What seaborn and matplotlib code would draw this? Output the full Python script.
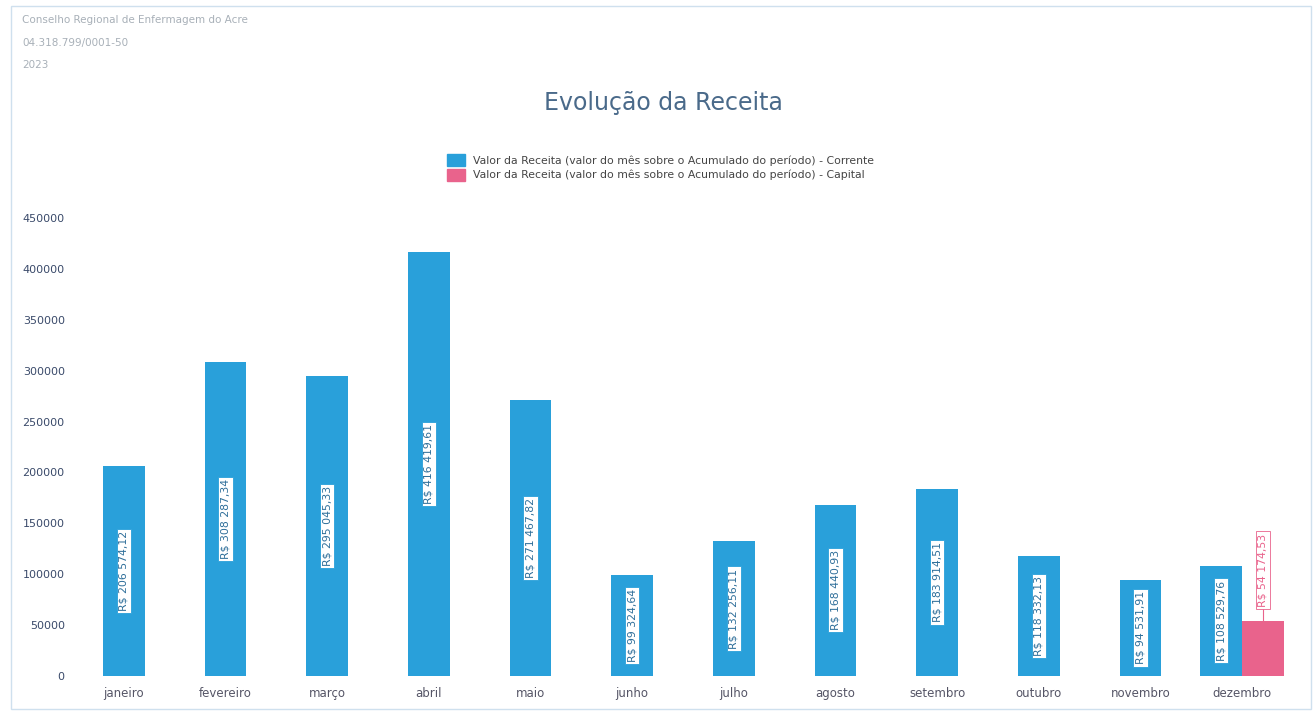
import matplotlib.pyplot as plt
import matplotlib.patches as mpatches
import seaborn as sns
import pandas as pd
import numpy as np

# dados
meses = ['janeiro', 'fevereiro', 'março', 'abril', 'maio', 'junho', 'julho',
         'agosto', 'setembro', 'outubro', 'novembro', 'dezembro']
corrente = [206574.12, 308287.34, 295045.33, 416419.61, 271467.82, 99324.64,
            132256.11, 168440.93, 183914.51, 118332.13, 94531.91, 108529.76]
capital = [None, None, None, None, None, None, None, None, None, None, None, 54174.53]
yticks = [0, 50000, 100000, 150000, 200000, 250000, 300000, 350000, 400000, 450000]
cabecalho = ['Conselho Regional de Enfermagem do Acre', '04.318.799/0001-50', '2023']
legenda = ['Valor da Receita (valor do mês sobre o Acumulado do período) - Corrente',
           'Valor da Receita (valor do mês sobre o Acumulado do período) - Capital']

azul = '#29A0DA'
rosa = '#E9638C'

def brl(v):
    s = f'{v:,.2f}'.replace(',', ' ').replace('.', ',')
    return 'R$ ' + s

sns.set_theme(style='white')
plt.rcParams['font.family'] = ['DejaVu Sans']

df = pd.DataFrame({'mes': meses, 'corrente': corrente, 'capital': capital})
df['pos'] = np.arange(len(df))
tem_cap = df['capital'].notna()

fig = plt.figure(figsize=(13.14, 7.13), dpi=100)
ax = fig.add_axes([0.0556, 0.052, 0.9284, 0.642])

w = 0.41
pos_c = df['pos'] - np.where(tem_cap, w / 2, 0)
ax.bar(pos_c, df['corrente'], width=w, color=azul, linewidth=0)
dcap = df[tem_cap]
pos_k = dcap['pos'] + w / 2
ax.bar(pos_k, dcap['capital'], width=w, color=rosa, linewidth=0)

for x, v in zip(pos_c, df['corrente']):
    ax.text(x, v / 2, brl(v), rotation=90, ha='center', va='center', fontsize=7.8,
            color='#2f6f9a',
            bbox=dict(boxstyle='square,pad=0.2', fc='white', ec=azul, lw=0.6))
for x, v in zip(pos_k, dcap['capital']):
    ytxt = v + 50000
    ax.plot([x, x], [v, ytxt - 30000], color=rosa, lw=0.8)
    ax.text(x, ytxt, brl(v), rotation=90, ha='center', va='center', fontsize=7.8,
            color=rosa,
            bbox=dict(boxstyle='square,pad=0.2', fc='white', ec=rosa, lw=0.6))

ax.set_xlim(-0.5, len(meses) - 0.5)
ax.set_ylim(0, 450000)
ax.set_xticks(df['pos'])
ax.set_xticklabels(meses, fontsize=8.5, color='#555566')
ax.set_yticks(yticks)
ax.set_yticklabels([str(t) for t in yticks], fontsize=8, color='#3a4a6a')
ax.tick_params(axis='y', pad=6, length=0)
ax.tick_params(axis='x', pad=8, length=0)
sns.despine(ax=ax, left=True, bottom=True)

for i, t in enumerate(cabecalho):
    fig.text(0.017, 0.968 - i * 0.032, t, fontsize=7.5, color='#a8b0b8')

fig.text(0.505, 0.855, 'Evolução da Receita', ha='center', va='center',
         fontsize=17, color='#4a6a8a')

handles = [mpatches.Patch(color=azul, label=legenda[0]),
           mpatches.Patch(color=rosa, label=legenda[1])]
fig.legend(handles=handles, loc='center', bbox_to_anchor=(0.503, 0.765),
           frameon=False, fontsize=7.8, handlelength=1.6, handleheight=1.4,
           labelspacing=0.2, labelcolor='#444444')

fig.add_artist(plt.Rectangle((0.008, 0.006), 0.99, 0.985, transform=fig.transFigure,
                             fill=False, ec='#cfe0ee', lw=1))

fig.savefig('out.png', dpi=100)
